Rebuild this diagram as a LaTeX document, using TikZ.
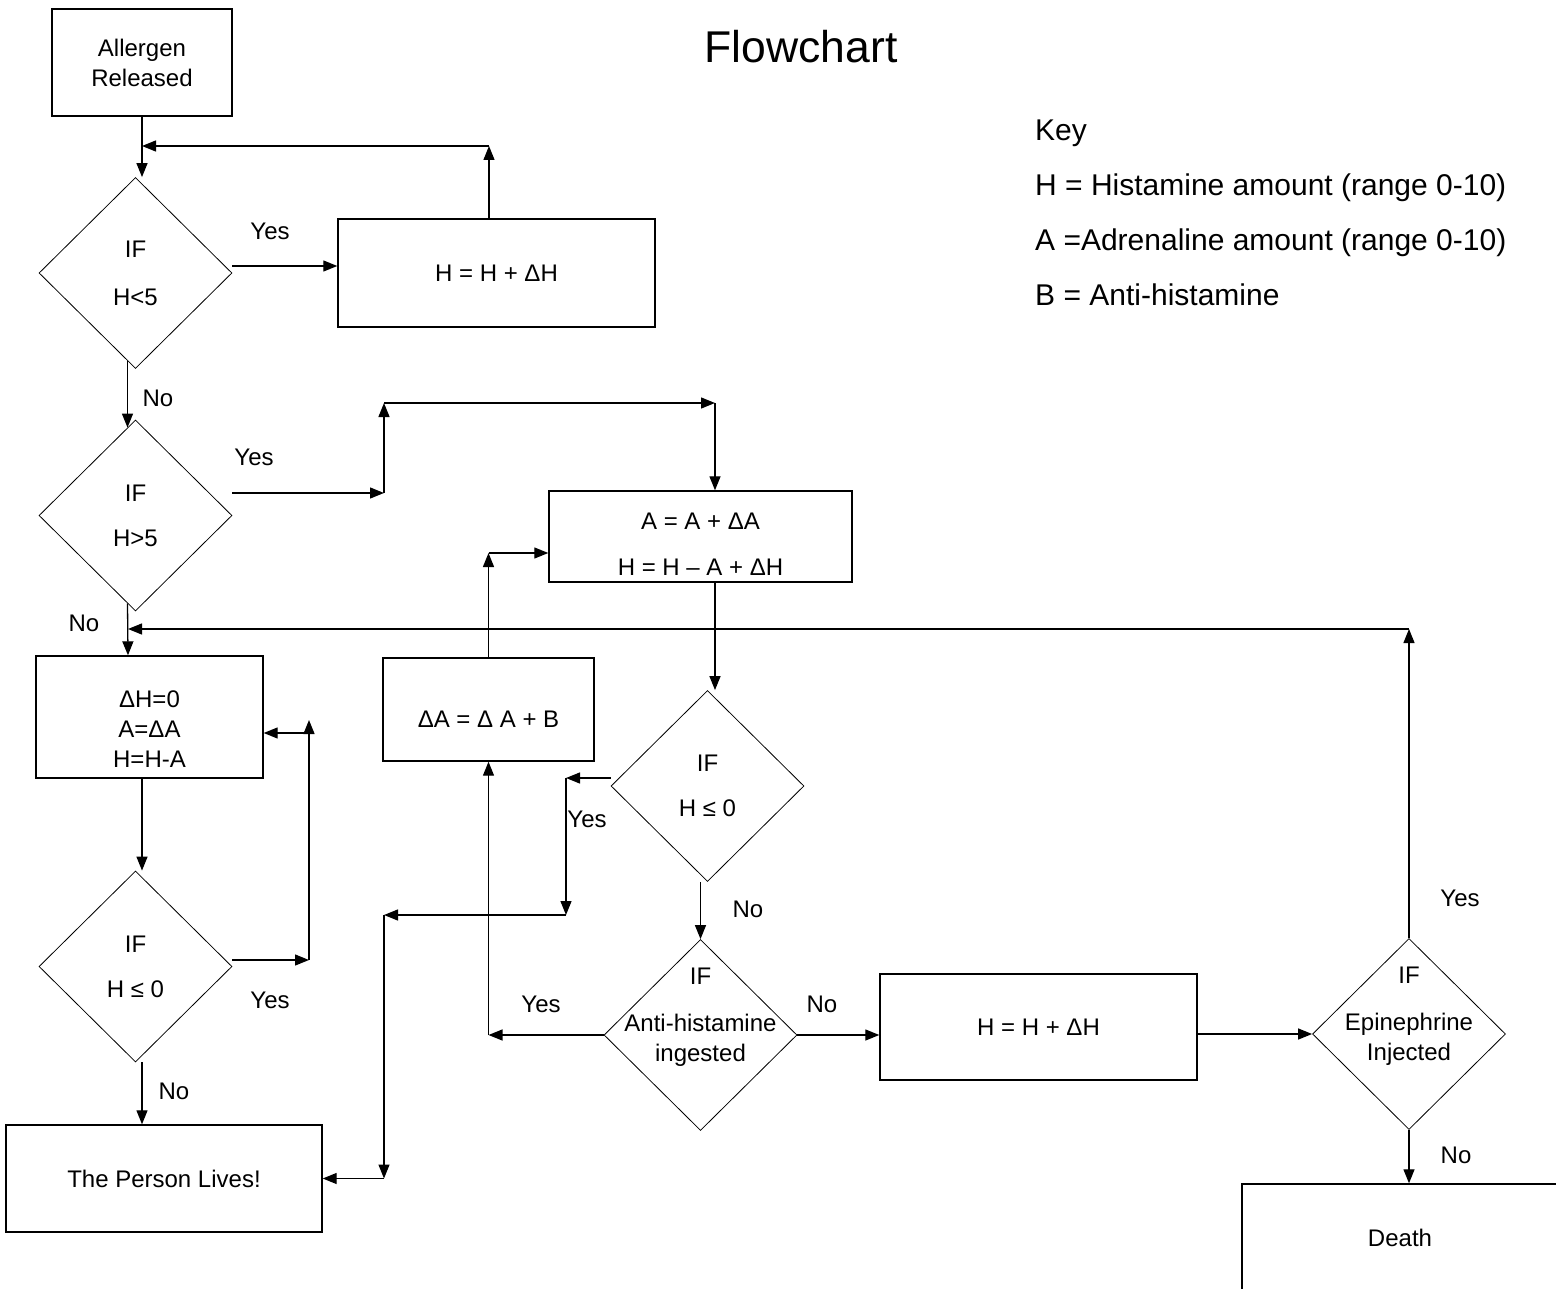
\documentclass[tikz,border=0pt]{standalone}
\usepackage{fontspec}
\setmainfont{Liberation Sans}
\usetikzlibrary{shapes.geometric}
\usetikzlibrary{arrows.meta}

\begin{document}
\begin{tikzpicture}[x=1pt, y=-1pt,
	box/.style={draw, line width=1.4pt, inner sep=0pt, align=center, font=\fontsize{24}{30}\selectfont},
	dia/.style={draw, diamond, line width=0.8pt, inner sep=0pt, minimum width=193pt, minimum height=191pt, align=center, font=\fontsize{24}{30}\selectfont},
	lbl/.style={font=\fontsize{24}{30}\selectfont},
	keytxt/.style={anchor=west, inner sep=0pt, font=\fontsize{30}{36}\selectfont},
	arr/.style={line width=1.3pt, -{Triangle[length=14pt, width=11pt]}}]
	\useasboundingbox (0,0) rectangle (1556,1289);

	\node[font=\fontsize{44.5}{50}\selectfont] (title) at (801,47) {Flowchart};
	\node[keytxt] (key) at (1035,133) {Key};
	\node[keytxt] (keyh) at (1035,188) {H = Histamine amount (range 0-10)};
	\node[keytxt] (keya) at (1035,243) {A =Adrenaline amount (range 0-10)};
	\node[keytxt] (keyb) at (1035,295) {B = Anti-histamine};

	\node[box, minimum width=180pt, minimum height=107pt] (start) at (142,62.5) {Allergen\\Released};
	\node[box, minimum width=317pt, minimum height=108pt] (hbox1) at (496.5,273) {H = H + ΔH};
	\node[box, minimum width=303pt, minimum height=91pt, label={[lbl, name=aboxt, align=center, yshift=-8pt]center:{A = A + ΔA\\[16pt]H = H – A + ΔH}}] (abox) at (700.5,536.5) {};
	\node[box, minimum width=227pt, minimum height=122pt, label={[lbl, name=dhboxt, align=center, yshift=-12pt]center:{ΔH=0\\A=ΔA\\H=H-A}}] (dhbox) at (149.5,717) {};
	\node[box, minimum width=211pt, minimum height=103pt, label={[lbl, name=daboxt, yshift=-10pt]center:ΔA = Δ A + B}] (dabox) at (488.5,709.5) {};
	\node[box, minimum width=316pt, minimum height=107pt] (lives) at (164,1178.5) {The Person Lives!};
	\node[box, minimum width=317pt, minimum height=106pt] (hbox2) at (1038.5,1027) {H = H + ΔH};
	\node[box, minimum width=316pt, minimum height=107pt] (death) at (1400,1237.5) {Death};

	\node[dia] (d1) at (135.5,273) {IF\\[18pt]H<5};
	\node[dia] (d2) at (135.5,515.5) {IF\\[15pt]H>5};
	\node[dia] (d3) at (135.5,966.5) {IF\\[15pt]H ≤ 0};
	\node[dia] (d4) at (707.5,786) {IF\\[15pt]H ≤ 0};
	\node[dia, label={[lbl, name=d5t, align=center, yshift=18pt]center:{IF\\[17pt]Anti-histamine\\ingested}}] (d5) at (700.5,1035) {};
	\node[dia, label={[lbl, name=d6t, align=center, yshift=18pt]center:{IF\\[17pt]Epinephrine\\Injected}}] (d6) at (1409,1034) {};

	\node[lbl] (yes1) at (270,231) {Yes};
	\node[lbl] (no1) at (158,398) {No};
	\node[lbl] (yes2) at (254,457) {Yes};
	\node[lbl] (no2) at (84,623) {No};
	\node[lbl] (yes3) at (270,1000) {Yes};
	\node[lbl] (no3) at (174,1091) {No};
	\node[lbl] (yes4) at (587,819) {Yes};
	\node[lbl] (no4) at (748,909) {No};
	\node[lbl] (yes5) at (541,1004) {Yes};
	\node[lbl] (no5) at (822,1004) {No};
	\node[lbl] (yes6) at (1460,898) {Yes};
	\node[lbl] (no6) at (1456,1155) {No};

	\coordinate (back1) at (489,146);
	\coordinate (back2) at (1409,629);
	\coordinate (nol) at (128,629);
	\coordinate (up1) at (384,493);
	\coordinate (up2) at (384,403);
	\coordinate (up3) at (715,403);
	\coordinate (loop0) at (309,960);
	\coordinate (loop1) at (309,720);
	\coordinate (loop2) at (309,733);
	\coordinate (side1) at (566,778);
	\coordinate (side2) at (566,915);
	\coordinate (side3) at (384,915);
	\coordinate (da1) at (488.5,553);

	\draw[arr] (start.south) -- (start.south |- d1.north);
	\draw[arr] (back1 |- hbox1.north) -- (back1);
	\draw[arr] (back1) -- (back1 -| start.south);
	\draw[arr] ([yshift=7pt]d1.east) -- ([yshift=7pt]hbox1.west);
	\draw[arr] ([xshift=-8pt, yshift=8pt]d1.south) -- ([xshift=-8pt, yshift=-8pt]d2.north);

	\draw[arr] (d2.east |- up1) -- (up1);
	\draw[arr] (up1) -- (up2);
	\draw[arr] (up2) -- (up3);
	\draw[arr] (up3) -- (up3 |- abox.north);

	\draw[arr] ([xshift=-8pt, yshift=8pt]d2.south) -- (nol |- dhbox.north);
	\draw[arr] (d6.north) -- (back2);
	\draw[arr] (back2) -- (nol);

	\draw[arr] (start.south |- dhbox.south) -- (start.south |- d3.north);
	\draw[arr] (start.south |- d3.south) -- (start.south |- lives.north);
	\draw[arr] (d3.east |- loop0) -- (loop0);
	\draw[arr] (loop0) -- (loop1);
	\draw[arr] (loop2) -- (loop2 -| dhbox.east);

	\draw[arr] (up3 |- abox.south) -- (up3 |- d4.north);
	\draw[arr] (d4.west |- side1) -- (side1);
	\draw[arr] (side1) -- (side2);
	\draw[arr] (side2) -- (side3);
	\draw[arr] (side3) -- (side3 |- lives.east);
	\draw[arr] (side3 |- lives.east) -- (lives.east);

	\draw[arr] (d5.north |- d4.south) -- (d5.north);
	\draw[arr] (d5.west) -- (d5.west -| dabox.south);
	\draw[arr] (d5.west -| dabox.south) -- (dabox.south);
	\draw[arr] (dabox.north) -- (da1);
	\draw[arr] (da1) -- (da1 -| abox.west);
	\draw[arr] (d5.east) -- (d5.east -| hbox2.west);
	\draw[arr] (hbox2.east |- d6.west) -- (d6.west);
	\draw[arr] (d6.south) -- (d6.south |- death.north);

\end{tikzpicture}
\end{document}
